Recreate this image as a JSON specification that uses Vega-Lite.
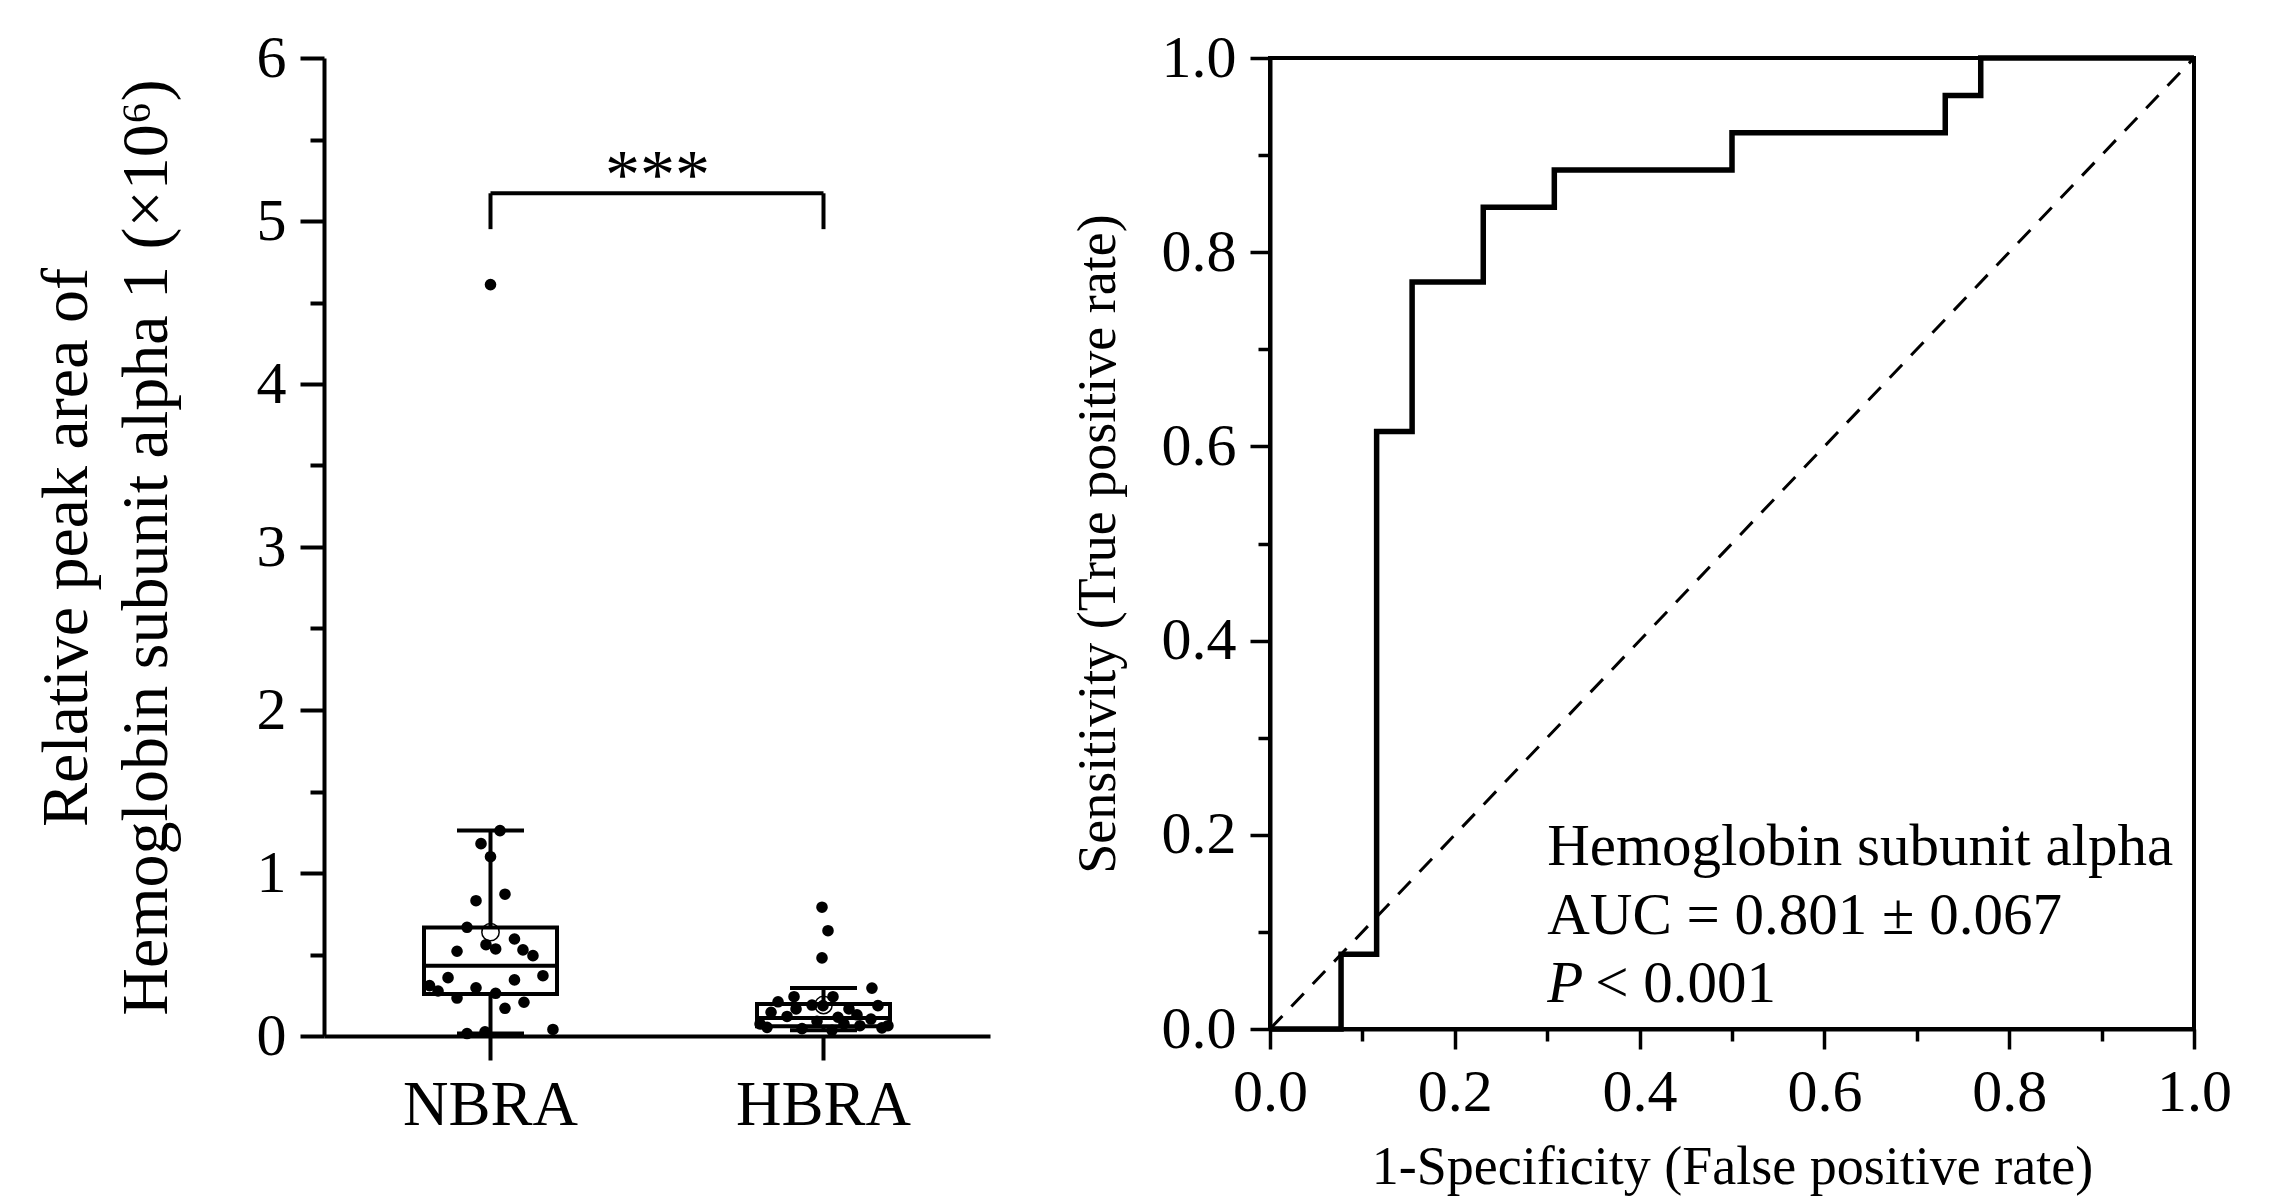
{
  "$schema": "https://vega.github.io/schema/vega-lite/v6.json",
  "background": "white",
  "padding": {"left": 32, "top": 26, "right": 10, "bottom": 10},
  "config": {
    "font": "Liberation Serif",
    "axis": {"labelFont": "Liberation Serif", "titleFont": "Liberation Serif", "labelColor": "black", "titleColor": "black", "domainColor": "black", "tickColor": "black", "grid": false, "titleFontWeight": "normal", "labelFlush": false},
    "view": {"stroke": null}
  },
  "datasets": {
    "pts": [
      {"group": "NBRA", "value": 1.26, "jit": 0.057},
      {"group": "NBRA", "value": 1.18, "jit": -0.057},
      {"group": "NBRA", "value": 1.10, "jit": 0.0},
      {"group": "NBRA", "value": 0.87, "jit": 0.087},
      {"group": "NBRA", "value": 0.83, "jit": -0.087},
      {"group": "NBRA", "value": 0.667, "jit": -0.141},
      {"group": "NBRA", "value": 0.595, "jit": 0.144},
      {"group": "NBRA", "value": 0.56, "jit": -0.027},
      {"group": "NBRA", "value": 0.534, "jit": 0.031},
      {"group": "NBRA", "value": 0.52, "jit": -0.201},
      {"group": "NBRA", "value": 0.528, "jit": 0.195},
      {"group": "NBRA", "value": 0.493, "jit": 0.255},
      {"group": "NBRA", "value": 0.358, "jit": -0.255},
      {"group": "NBRA", "value": 0.37, "jit": 0.315},
      {"group": "NBRA", "value": 0.344, "jit": 0.144},
      {"group": "NBRA", "value": 0.296, "jit": -0.087},
      {"group": "NBRA", "value": 0.309, "jit": -0.366},
      {"group": "NBRA", "value": 0.276, "jit": -0.315},
      {"group": "NBRA", "value": 0.233, "jit": -0.201},
      {"group": "NBRA", "value": 0.262, "jit": 0.031},
      {"group": "NBRA", "value": 0.207, "jit": 0.201},
      {"group": "NBRA", "value": 0.17, "jit": 0.087},
      {"group": "NBRA", "value": 0.015, "jit": -0.141},
      {"group": "NBRA", "value": 0.025, "jit": -0.033},
      {"group": "NBRA", "value": 0.04, "jit": 0.375},
      {"group": "NBRA", "value": 4.61, "jit": 0.0},
      {"group": "HBRA", "value": 0.79, "jit": -0.009},
      {"group": "HBRA", "value": 0.646, "jit": 0.027},
      {"group": "HBRA", "value": 0.479, "jit": -0.009},
      {"group": "HBRA", "value": 0.294, "jit": 0.291},
      {"group": "HBRA", "value": 0.241, "jit": -0.177},
      {"group": "HBRA", "value": 0.241, "jit": 0.057},
      {"group": "HBRA", "value": 0.21, "jit": -0.273},
      {"group": "HBRA", "value": 0.19, "jit": -0.069},
      {"group": "HBRA", "value": 0.186, "jit": -0.003},
      {"group": "HBRA", "value": 0.166, "jit": 0.153},
      {"group": "HBRA", "value": 0.186, "jit": 0.327},
      {"group": "HBRA", "value": 0.145, "jit": -0.315},
      {"group": "HBRA", "value": 0.166, "jit": -0.165},
      {"group": "HBRA", "value": 0.115, "jit": 0.087},
      {"group": "HBRA", "value": 0.104, "jit": 0.285},
      {"group": "HBRA", "value": 0.074, "jit": -0.381},
      {"group": "HBRA", "value": 0.053, "jit": -0.339},
      {"group": "HBRA", "value": 0.074, "jit": 0.123},
      {"group": "HBRA", "value": 0.063, "jit": 0.219},
      {"group": "HBRA", "value": 0.063, "jit": 0.387},
      {"group": "HBRA", "value": 0.045, "jit": -0.129},
      {"group": "HBRA", "value": 0.09, "jit": -0.039},
      {"group": "HBRA", "value": 0.13, "jit": 0.201},
      {"group": "HBRA", "value": 0.035, "jit": 0.051},
      {"group": "HBRA", "value": 0.05, "jit": 0.351},
      {"group": "HBRA", "value": 0.12, "jit": -0.219}
    ],
    "summary": [
      {"group": "NBRA", "lower": 0.015, "q1": 0.258, "median": 0.431, "q3": 0.665, "upper": 1.26, "mean": 0.637},
      {"group": "HBRA", "lower": 0.035, "q1": 0.06, "median": 0.11, "q3": 0.196, "upper": 0.294, "mean": 0.19}
    ],
    "roc": [
      {"fpr": 0, "tpr": 0},
      {"fpr": 0.0769, "tpr": 0.0769},
      {"fpr": 0.1154, "tpr": 0.6154},
      {"fpr": 0.1538, "tpr": 0.7692},
      {"fpr": 0.2308, "tpr": 0.8462},
      {"fpr": 0.3077, "tpr": 0.8846},
      {"fpr": 0.5, "tpr": 0.9231},
      {"fpr": 0.7308, "tpr": 0.9615},
      {"fpr": 0.7692, "tpr": 1},
      {"fpr": 1, "tpr": 1}
    ]
  },
  "spacing": 79,
  "hconcat": [
    {
      "width": 666,
      "height": 978,
      "view": {"stroke": null},
      "layer": [
        {
          "data": {"name": "summary"},
          "mark": {"type": "bar", "width": 133, "fill": "white", "stroke": "black", "strokeWidth": 4},
          "encoding": {
            "x": {"field": "group", "type": "nominal", "sort": ["NBRA", "HBRA"], "scale": {"paddingInner": 0.5, "paddingOuter": 0.25},
                  "axis": {"orient": "bottom", "title": null, "labelAngle": 0, "labelFontSize": 63, "labelPadding": 14, "tickSize": 24, "tickWidth": 4, "domainWidth": 4}},
            "y": {"field": "q1", "type": "quantitative", "scale": {"domain": [0, 6], "nice": false},
                  "axis": {"orient": "left", "values": [0, 1, 2, 3, 4, 5, 6], "title": ["Relative peak area of", "Hemoglobin subunit alpha 1 (×10⁶)"], "titleFontSize": 66, "titleLineHeight": 80, "titlePadding": 76, "labelFontSize": 60, "labelPadding": 14, "tickSize": 24, "tickWidth": 4, "domainWidth": 4}},
            "y2": {"field": "q3"}
          }
        },
        {
          "data": {"name": "summary"},
          "mark": {"type": "rule", "color": "black", "strokeWidth": 4},
          "encoding": {
            "x": {"field": "group", "type": "nominal", "sort": ["NBRA", "HBRA"], "axis": null},
            "y": {"field": "q3", "type": "quantitative", "axis": null},
            "y2": {"field": "upper"}
          }
        },
        {
          "data": {"name": "summary"},
          "mark": {"type": "rule", "color": "black", "strokeWidth": 4},
          "encoding": {
            "x": {"field": "group", "type": "nominal", "sort": ["NBRA", "HBRA"], "axis": null},
            "y": {"field": "lower", "type": "quantitative", "axis": null},
            "y2": {"field": "q1"}
          }
        },
        {
          "data": {"name": "summary"},
          "mark": {"type": "tick", "color": "black", "size": 67, "thickness": 4, "opacity": 1},
          "encoding": {
            "x": {"field": "group", "type": "nominal", "sort": ["NBRA", "HBRA"], "axis": null},
            "y": {"field": "upper", "type": "quantitative", "axis": null}
          }
        },
        {
          "data": {"name": "summary"},
          "mark": {"type": "tick", "color": "black", "size": 67, "thickness": 4, "opacity": 1},
          "encoding": {
            "x": {"field": "group", "type": "nominal", "sort": ["NBRA", "HBRA"], "axis": null},
            "y": {"field": "lower", "type": "quantitative", "axis": null}
          }
        },
        {
          "data": {"name": "summary"},
          "mark": {"type": "tick", "color": "black", "size": 133, "thickness": 4, "opacity": 1},
          "encoding": {
            "x": {"field": "group", "type": "nominal", "sort": ["NBRA", "HBRA"], "axis": null},
            "y": {"field": "median", "type": "quantitative", "axis": null}
          }
        },
        {
          "data": {"name": "pts"},
          "mark": {"type": "circle", "color": "black", "size": 135, "opacity": 1},
          "encoding": {
            "x": {"field": "group", "type": "nominal", "sort": ["NBRA", "HBRA"], "axis": null},
            "xOffset": {"field": "jit", "type": "quantitative", "scale": {"domain": [-0.5, 0.5]}},
            "y": {"field": "value", "type": "quantitative", "axis": null}
          }
        },
        {
          "data": {"name": "summary"},
          "mark": {"type": "point", "shape": "circle", "filled": false, "color": "black", "strokeWidth": 1.5, "size": 300, "opacity": 1},
          "encoding": {
            "x": {"field": "group", "type": "nominal", "sort": ["NBRA", "HBRA"], "axis": null},
            "y": {"field": "mean", "type": "quantitative", "axis": null}
          }
        },
        {
          "data": {"values": [{}]},
          "mark": {"type": "rule", "color": "black", "strokeWidth": 4},
          "encoding": {
            "x": {"datum": "NBRA", "type": "nominal", "axis": null},
            "y": {"datum": 4.95, "type": "quantitative", "axis": null},
            "y2": {"datum": 5.17}
          }
        },
        {
          "data": {"values": [{}]},
          "mark": {"type": "rule", "color": "black", "strokeWidth": 4},
          "encoding": {
            "x": {"datum": "HBRA", "type": "nominal", "axis": null},
            "y": {"datum": 4.95, "type": "quantitative", "axis": null},
            "y2": {"datum": 5.17}
          }
        },
        {
          "data": {"values": [{}]},
          "mark": {"type": "rule", "color": "black", "strokeWidth": 4},
          "encoding": {
            "x": {"datum": "NBRA", "type": "nominal", "axis": null},
            "x2": {"datum": "HBRA"},
            "y": {"datum": 5.17, "type": "quantitative", "axis": null}
          }
        },
        {
          "data": {"values": [{}]},
          "mark": {"type": "text", "text": "***", "fontSize": 70, "font": "Liberation Serif", "color": "black", "align": "center", "baseline": "alphabetic", "dx": 167},
          "encoding": {
            "x": {"datum": "NBRA", "type": "nominal", "axis": null},
            "y": {"datum": 5.14, "type": "quantitative", "axis": null}
          }
        },
        {
          "data": {"name": "pts"},
          "mark": {"type": "point", "opacity": 0},
          "encoding": {
            "x": {"field": "group", "type": "nominal", "sort": ["NBRA", "HBRA"], "axis": null},
            "y": {"field": "value", "type": "quantitative",
                  "axis": {"orient": "left", "values": [0.5, 1.5, 2.5, 3.5, 4.5, 5.5], "tickSize": 14, "tickWidth": 4, "labels": false, "domain": false, "title": null}}
          }
        }
      ],
      "resolve": {"axis": {"x": "independent", "y": "independent"}}
    },
    {
      "width": 924,
      "height": 971,
      "view": {"stroke": "black", "strokeWidth": 4},
      "layer": [
        {
          "data": {"values": [{}]},
          "mark": {"type": "rule", "color": "black", "strokeWidth": 3, "strokeDash": [18, 13]},
          "encoding": {
            "x": {"datum": 0, "type": "quantitative", "scale": {"domain": [0, 1], "nice": false},
                  "axis": {"orient": "bottom", "values": [0, 0.2, 0.4, 0.6, 0.8, 1], "format": ".1f", "title": "1-Specificity (False positive rate)", "titleFontSize": 54, "titlePadding": 18, "labelFontSize": 60, "labelPadding": 14, "tickSize": 20, "tickWidth": 3.5, "domainWidth": 4}},
            "y": {"datum": 0, "type": "quantitative", "scale": {"domain": [0, 1], "nice": false},
                  "axis": {"orient": "left", "values": [0, 0.2, 0.4, 0.6, 0.8, 1], "format": ".1f", "title": "Sensitivity (True positive rate)", "titleFontSize": 54, "titlePadding": 36, "labelFontSize": 60, "labelPadding": 14, "tickSize": 20, "tickWidth": 3.5, "domainWidth": 4}},
            "x2": {"datum": 1},
            "y2": {"datum": 1}
          }
        },
        {
          "data": {"name": "roc"},
          "mark": {"type": "line", "interpolate": "step-after", "color": "black", "strokeWidth": 5.5},
          "encoding": {
            "x": {"field": "fpr", "type": "quantitative", "axis": null},
            "y": {"field": "tpr", "type": "quantitative", "axis": null}
          }
        },
        {
          "data": {"name": "roc"},
          "mark": {"type": "point", "opacity": 0},
          "encoding": {
            "x": {"field": "fpr", "type": "quantitative",
                  "axis": {"orient": "bottom", "values": [0.1, 0.3, 0.5, 0.7, 0.9], "tickSize": 12, "tickWidth": 3.5, "labels": false, "domain": false, "title": null}},
            "y": {"field": "tpr", "type": "quantitative",
                  "axis": {"orient": "left", "values": [0.1, 0.3, 0.5, 0.7, 0.9], "tickSize": 12, "tickWidth": 3.5, "labels": false, "domain": false, "title": null}}
          }
        },
        {
          "data": {"values": [{}]},
          "mark": {"type": "text", "text": "Hemoglobin subunit alpha", "fontSize": 59, "font": "Liberation Serif", "color": "black", "align": "left", "baseline": "alphabetic"},
          "encoding": {
            "x": {"datum": 0.3, "type": "quantitative", "axis": null},
            "y": {"datum": 0.169, "type": "quantitative", "axis": null}
          }
        },
        {
          "data": {"values": [{}]},
          "mark": {"type": "text", "text": "AUC = 0.801 ± 0.067", "fontSize": 59, "font": "Liberation Serif", "color": "black", "align": "left", "baseline": "alphabetic"},
          "encoding": {
            "x": {"datum": 0.3, "type": "quantitative", "axis": null},
            "y": {"datum": 0.098, "type": "quantitative", "axis": null}
          }
        },
        {
          "data": {"values": [{}]},
          "mark": {"type": "text", "text": "P", "fontSize": 59, "font": "Liberation Serif", "fontStyle": "italic", "color": "black", "align": "left", "baseline": "alphabetic"},
          "encoding": {
            "x": {"datum": 0.3, "type": "quantitative", "axis": null},
            "y": {"datum": 0.028, "type": "quantitative", "axis": null}
          }
        },
        {
          "data": {"values": [{}]},
          "mark": {"type": "text", "text": "< 0.001", "fontSize": 59, "font": "Liberation Serif", "color": "black", "align": "left", "baseline": "alphabetic"},
          "encoding": {
            "x": {"datum": 0.352, "type": "quantitative", "axis": null},
            "y": {"datum": 0.028, "type": "quantitative", "axis": null}
          }
        }
      ],
      "resolve": {"axis": {"x": "independent", "y": "independent"}}
    }
  ]
}
